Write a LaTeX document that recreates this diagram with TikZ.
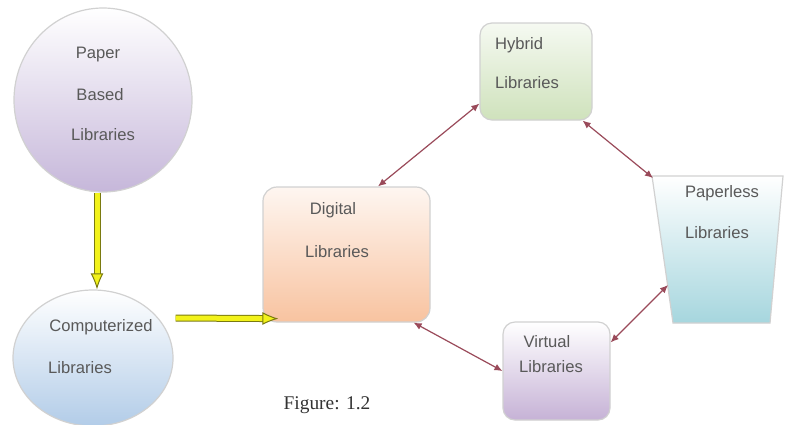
\documentclass[tikz,border=0pt]{standalone}
\usepackage{fontspec}
\setmainfont{Liberation Sans}
\newfontfamily\capfont{Liberation Serif}
\usetikzlibrary{shapes.geometric,arrows.meta,calc}
\definecolor{paperc}{HTML}{C6B7DA}
\definecolor{compc}{HTML}{B2CCE8}
\definecolor{digc}{HTML}{F8C3A0}
\definecolor{hybc}{HTML}{CFE2BC}
\definecolor{virc}{HTML}{C6B2D6}
\definecolor{plc}{HTML}{A6D6DE}
\definecolor{linkred}{HTML}{9A4A5A}
\definecolor{yolive}{HTML}{7A7A10}
\definecolor{yfill}{HTML}{F2F21A}
\begin{document}
\begin{tikzpicture}[x=0.5pt,y=-0.5pt,
  shapebox/.style={draw=black!18, line width=0.6pt, inner sep=0pt},
  lbl/.style={text=black!65, font=\fontsize{8.3}{10}\selectfont, inner sep=0pt, anchor=center},
  link/.style={draw=linkred, line width=0.6pt, {Latex[length=4pt,width=3.5pt]}-{Latex[length=4pt,width=3.5pt]}},
  yarrow/.style={draw=yolive, line width=0.5pt, double=yfill, double distance=2.5pt, -{Latex[length=8pt,width=6.5pt,fill=yfill]}}]
\clip (0,0) rectangle (785,424);
\fill[white] (0,0) rectangle (785,424);
% shapes
\node[shapebox, ellipse, minimum width=89pt, minimum height=92pt, top color=white, bottom color=paperc] (paper) at (103,100) {};
\node[shapebox, ellipse, minimum width=80pt, minimum height=68pt, top color=white, bottom color=compc] (comp) at (93,358) {};
\node[shapebox, rectangle, rounded corners=7pt, minimum width=83.5pt, minimum height=67.5pt, top color=digc!15, bottom color=digc] (dig) at (346.5,254.5) {};
\node[shapebox, rectangle, rounded corners=6pt, minimum width=56pt, minimum height=48.5pt, top color=hybc!20, bottom color=hybc] (hyb) at (536,71.5) {};
\node[shapebox, rectangle, rounded corners=6pt, minimum width=53.5pt, minimum height=49pt, top color=white, bottom color=virc] (virt) at (556.5,371) {};
\shade[top color=white, bottom color=plc, draw=black!18, line width=0.6pt] (652,176) -- (783,176) -- (770,323) -- (673,323) -- cycle;
\coordinate (pltl) at (653,178);
\coordinate (plmid) at (668,285);
% texts
\node[lbl] (tpaper) at (98,55) {Paper};
\node[lbl] (tbased) at (100,95) {Based};
\node[lbl] (tlib1) at (103,135) {Libraries};
\node[lbl] (tcomp) at (101,327) {Computerized};
\node[lbl] (tlib2) at (80,368) {Libraries};
\node[lbl] (tdig) at (333,210) {Digital};
\node[lbl] (tlib3) at (337,252) {Libraries};
\node[lbl] (thyb) at (519,45) {Hybrid};
\node[lbl] (tlib4) at (527,83) {Libraries};
\node[lbl] (tpl) at (722,193) {Paperless};
\node[lbl] (tlib5) at (717,233) {Libraries};
\node[lbl] (tvir) at (547,342) {Virtual};
\node[lbl] (tlib6) at (551,367) {Libraries};
\node[inner sep=0pt, font=\capfont\fontsize{9.7}{11}\selectfont, text=black!80] (cap) at (327,405) {Figure: 1.2};
% yellow arrows
\draw[yarrow] ([xshift=-3pt]paper.south) -- ([xshift=2pt]comp.north);
\draw[yarrow] ([xshift=1pt,yshift=20pt]comp.east) -- ([xshift=8pt,yshift=2pt]dig.south west);
% links
\draw[link] ([xshift=15.75pt]dig.north) -- ([yshift=8.5pt]hyb.south west);
\draw[link] ([xshift=-5pt]hyb.south east) -- (pltl);
\draw[link] ([xshift=-8.5pt]dig.south east) -- (virt.west);
\draw[link] ([yshift=-10.5pt]virt.north east) -- (plmid);
\end{tikzpicture}
\end{document}
